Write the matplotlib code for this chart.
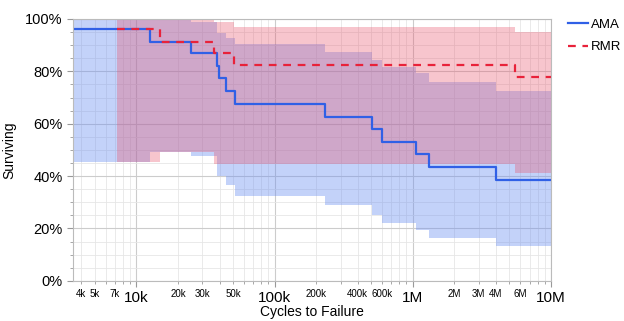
import numpy as np
import matplotlib
matplotlib.use("Agg")
import matplotlib.pyplot as plt
from matplotlib.ticker import FixedLocator, FixedFormatter

plt.rcParams['font.family'] = ['Liberation Sans', 'DejaVu Sans']

# AMA curve (cycles, surviving %)
ama_t = [3500, 12500, 24700, 38600, 39300, 44400, 51600, 230000, 503000, 596000, 1060000, 1300000, 4000000]
ama_s = [96.1, 91.3, 86.9, 82.1, 77.4, 72.6, 67.6, 62.7, 58.0, 53.1, 48.3, 43.6, 38.7]
# AMA confidence band
ama_band_t = [3500, 12500, 24700, 38600, 44400, 51600, 230000, 503000, 596000, 1060000, 1300000, 4000000]
ama_hi = [100, 99.5, 98.7, 94.5, 92.6, 90.3, 87.5, 84.4, 81.8, 79.3, 76.1, 72.6]
ama_lo = [45.5, 49.3, 47.6, 40.0, 36.5, 32.3, 28.9, 25.1, 22.1, 19.4, 16.2, 13.5]

# RMR curve
rmr_t = [7300, 14800, 36500, 50500, 5500000]
rmr_s = [96.1, 91.3, 86.9, 82.4, 77.7]
rmr_band_t = [7300, 14800, 36500, 50500, 5500000]
rmr_hi = [100, 100, 98.7, 96.9, 95.0]
rmr_lo = [45.5, 49.3, 44.5, 44.5, 41.0]

x_end = 1e7

major_ticks = [1e4, 1e5, 1e6, 1e7]
major_labels = ['10k', '100k', '1M', '10M']
minor_lab = {4e3: '4k', 5e3: '5k', 7e3: '7k', 2e4: '20k', 3e4: '30k', 5e4: '50k',
             2e5: '200k', 4e5: '400k', 6e5: '600k', 2e6: '2M', 3e6: '3M', 4e6: '4M', 6e6: '6M'}


def ext(t, v):
    return list(t) + [x_end], list(v) + [v[-1]]


fig = plt.figure(figsize=(6.24, 3.21), dpi=100)
ax = fig.add_axes([0.117, 0.125, 0.766, 0.816])

blue = '#3060e6'
red = '#e8223a'

t, hi = ext(ama_band_t, ama_hi)
_, lo = ext(ama_band_t, ama_lo)
ax.fill_between(t, lo, hi, step='post', color='#6b8ff0', alpha=0.4, lw=0)
t, hi = ext(rmr_band_t, rmr_hi)
_, lo = ext(rmr_band_t, rmr_lo)
ax.fill_between(t, lo, hi, step='post', color='#e85068', alpha=0.33, lw=0)

t, s = ext(ama_t, ama_s)
ax.step(t, s, where='post', color=blue, lw=1.6, label='AMA')
t, s = ext(rmr_t, rmr_s)
ax.step(t, s, where='post', color=red, lw=1.6, ls=(0, (3.5, 3)), label='RMR')

ax.set_xscale('log')
ax.set_xlim(3480, 1e7)
ax.set_ylim(0, 100)

minor = []
for d in [1e3, 1e4, 1e5, 1e6]:
    for m in range(2, 10):
        v = m * d
        if 3480 <= v <= 1e7:
            minor.append(v)
ax.xaxis.set_major_locator(FixedLocator(major_ticks))
ax.xaxis.set_major_formatter(FixedFormatter(major_labels))
ax.xaxis.set_minor_locator(FixedLocator(minor))
ax.xaxis.set_minor_formatter(FixedFormatter([minor_lab.get(v, '') for v in minor]))
ax.tick_params(axis='x', which='major', labelsize=11, length=4, color='#999999', pad=3)
ax.tick_params(axis='x', which='minor', labelsize=7, length=2.5, color='#999999', pad=3)

ax.set_yticks(range(0, 101, 20))
ax.set_yticklabels([f'{v}%' for v in range(0, 101, 20)])
ax.set_yticks(range(0, 101, 5), minor=True)
ax.tick_params(axis='y', which='major', labelsize=10.5, length=4, color='#999999')
ax.tick_params(axis='y', which='minor', length=2.5, color='#999999')

ax.grid(True, which='major', color='#cccccc', lw=0.8)
ax.grid(True, which='minor', color='#e6e6e6', lw=0.6)
ax.set_axisbelow(True)
for sp in ax.spines.values():
    sp.set_color('#bbbbbb')
    sp.set_linewidth(0.8)

ax.set_xlabel('Cycles to Failure', fontsize=10, labelpad=0)
ax.set_ylabel('Surviving', fontsize=10, labelpad=6)

h, l = ax.get_legend_handles_labels()
fig.legend(h, l, loc='upper left', bbox_to_anchor=(0.91, 0.943), frameon=False,
           fontsize=9.5, handlelength=1.5, handletextpad=0.25, labelspacing=0.8,
           borderaxespad=0, borderpad=0)

fig.savefig('out.png', dpi=100)
